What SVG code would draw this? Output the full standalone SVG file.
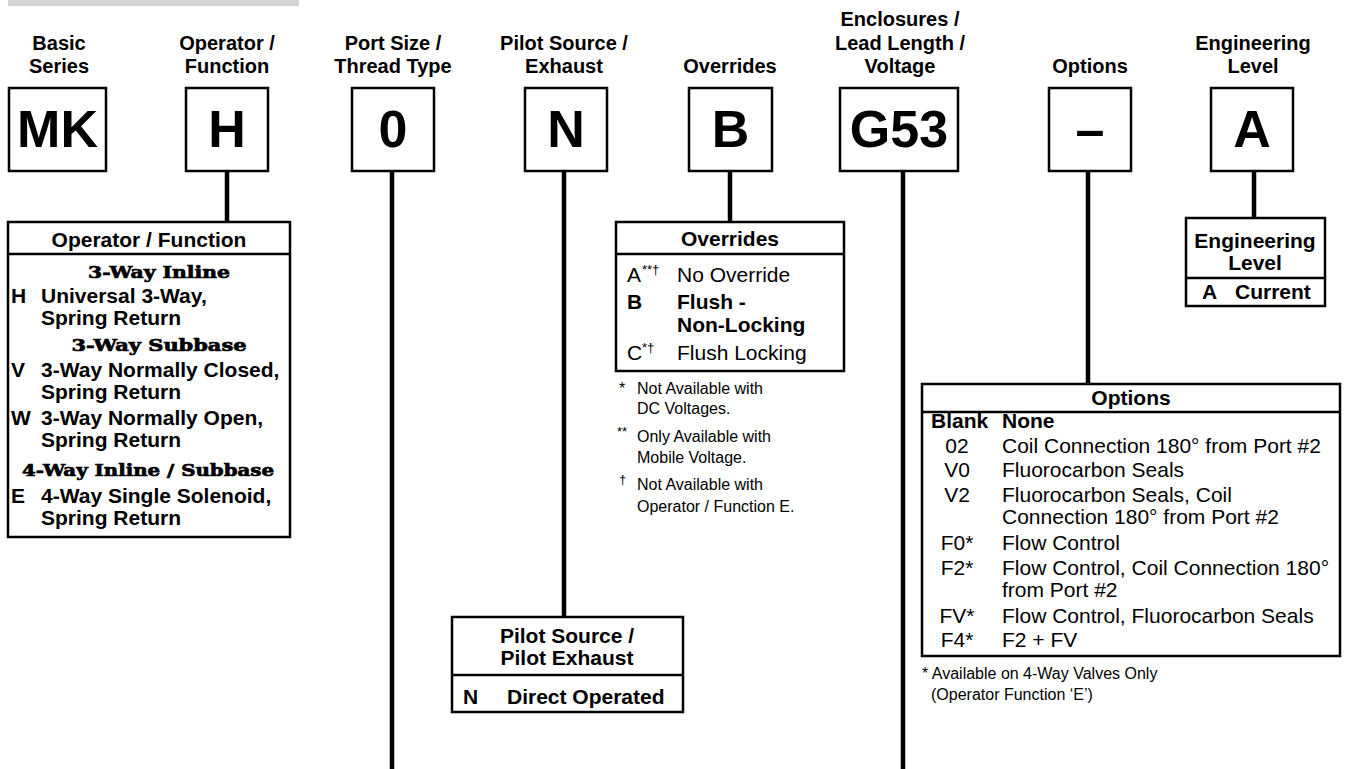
<svg xmlns="http://www.w3.org/2000/svg" width="1354" height="769" viewBox="0 0 1354 769">
<style>
text{font-family:"Liberation Sans",Arial,Helvetica,sans-serif;fill:#000}
.hdr{font-weight:bold;font-size:20px;text-anchor:middle}
.code{font-weight:bold;font-size:52px;text-anchor:middle}
.box{fill:#fff;stroke:#000;stroke-width:2.5}
.div{stroke:#000;stroke-width:2.5}
.b{font-weight:bold;font-size:21px}
.r{font-size:21px}
.c{text-anchor:middle}
.fn{font-size:16px}
.sup{font-size:13px}
.slab{font-family:"DejaVu Serif",serif;font-weight:bold;font-size:17px;text-anchor:middle;stroke:#000;stroke-width:0.7}
#connectors line{stroke:#000;stroke-width:4.5}
</style>
<rect x="8" y="0" width="291" height="6" fill="#d4d4d4"/>
<g id="connectors">
<line x1="227" y1="171" x2="227" y2="222"/>
<line x1="392" y1="171" x2="392" y2="769"/>
<line x1="564" y1="171" x2="564" y2="617"/>
<line x1="730" y1="171" x2="730" y2="222"/>
<line x1="903" y1="171" x2="903" y2="769"/>
<line x1="1088" y1="171" x2="1088" y2="384"/>
<line x1="1254" y1="171" x2="1254" y2="218"/>
</g>
<g id="basic-series">
<text class="hdr" x="59" y="50">Basic</text><text class="hdr" x="59" y="73">Series</text>
<rect class="box" x="9" y="88" width="97" height="83"/><text class="code" x="57.5" y="147">MK</text>
</g>
<g id="operator-function">
<text class="hdr" x="227" y="50">Operator /</text><text class="hdr" x="227" y="73">Function</text>
<rect class="box" x="186" y="88" width="82" height="83"/><text class="code" x="227" y="147">H</text>
</g>
<g id="port-size">
<text class="hdr" x="393" y="50">Port Size /</text><text class="hdr" x="393" y="73">Thread Type</text>
<rect class="box" x="352" y="88" width="82" height="83"/><text class="code" x="393" y="147">0</text>
</g>
<g id="pilot-source">
<text class="hdr" x="564" y="50">Pilot Source /</text><text class="hdr" x="564" y="73">Exhaust</text>
<rect class="box" x="525" y="88" width="82" height="83"/><text class="code" x="566" y="147">N</text>
</g>
<g id="overrides">
<text class="hdr" x="730" y="73">Overrides</text>
<rect class="box" x="689" y="88" width="83" height="83"/><text class="code" x="730.5" y="147">B</text>
</g>
<g id="enclosures">
<text class="hdr" x="900" y="26">Enclosures /</text><text class="hdr" x="900" y="50">Lead Length /</text><text class="hdr" x="900" y="73">Voltage</text>
<rect class="box" x="840" y="88" width="118" height="83"/><text class="code" x="899" y="147">G53</text>
</g>
<g id="options">
<text class="hdr" x="1090" y="73">Options</text>
<rect class="box" x="1049" y="88" width="82" height="83"/><text class="code" x="1090" y="147">–</text>
</g>
<g id="engineering-level">
<text class="hdr" x="1253" y="50">Engineering</text><text class="hdr" x="1253" y="73">Level</text>
<rect class="box" x="1211" y="88" width="82" height="83"/><text class="code" x="1252" y="147">A</text>
</g>
<g id="operator-table">
<rect class="box" x="8" y="222" width="282" height="315"/>
<line class="div" x1="8" y1="254" x2="290" y2="254"/>
<text class="b c" x="149" y="247">Operator / Function</text>
<text class="slab" x="159" y="278" textLength="142" lengthAdjust="spacingAndGlyphs">3-Way Inline</text>
<text class="b" x="11" y="303">H</text><text class="b" x="41" y="303">Universal 3-Way,</text>
<text class="b" x="41" y="325">Spring Return</text>
<text class="slab" x="159" y="351" textLength="175" lengthAdjust="spacingAndGlyphs">3-Way Subbase</text>
<text class="b" x="11" y="377">V</text><text class="b" x="41" y="377">3-Way Normally Closed,</text>
<text class="b" x="41" y="399">Spring Return</text>
<text class="b" x="11" y="425">W</text><text class="b" x="41" y="425">3-Way Normally Open,</text>
<text class="b" x="41" y="447">Spring Return</text>
<text class="slab" x="148" y="476" textLength="252" lengthAdjust="spacingAndGlyphs">4-Way Inline / Subbase</text>
<text class="b" x="11" y="503">E</text><text class="b" x="41" y="503">4-Way Single Solenoid,</text>
<text class="b" x="41" y="525">Spring Return</text>
</g>
<g id="overrides-table">
<rect class="box" x="616" y="222" width="228" height="149"/>
<line class="div" x1="616" y1="254" x2="844" y2="254"/>
<text class="b c" x="730" y="246">Overrides</text>
<text class="r" x="627" y="282">A</text><text class="sup" x="642" y="274">**†</text><text class="r" x="677" y="282">No Override</text>
<text class="b" x="627" y="309">B</text><text class="b" x="677" y="309">Flush -</text>
<text class="b" x="677" y="332">Non-Locking</text>
<text class="r" x="627" y="360">C</text><text class="sup" x="642" y="352">*†</text><text class="r" x="677" y="360">Flush Locking</text>
</g>
<g id="overrides-notes">
<text class="fn" x="619" y="394">*</text><text class="fn" x="637" y="394">Not Available with</text>
<text class="fn" x="637" y="414">DC Voltages.</text>
<text class="sup" x="617" y="436">**</text><text class="fn" x="637" y="442">Only Available with</text>
<text class="fn" x="637" y="463">Mobile Voltage.</text>
<text class="sup" x="619" y="484">†</text><text class="fn" x="637" y="490">Not Available with</text>
<text class="fn" x="637" y="512">Operator / Function E.</text>
</g>
<g id="pilot-table">
<rect class="box" x="452" y="617" width="231" height="95"/>
<line class="div" x1="452" y1="675" x2="683" y2="675"/>
<text class="b c" x="567" y="643">Pilot Source /</text>
<text class="b c" x="567" y="665">Pilot Exhaust</text>
<text class="b" x="463" y="704">N</text><text class="b" x="507" y="704">Direct Operated</text>
</g>
<g id="engineering-table">
<rect class="box" x="1186" y="218" width="139" height="88"/>
<line class="div" x1="1186" y1="278" x2="1325" y2="278"/>
<text class="b c" x="1255" y="248">Engineering</text>
<text class="b c" x="1255" y="270">Level</text>
<text class="b" x="1202" y="299">A</text><text class="b" x="1235" y="299">Current</text>
</g>
<g id="options-table">
<rect class="box" x="922" y="384" width="418" height="272"/>
<line class="div" x1="922" y1="412" x2="1340" y2="412"/>
<text class="b c" x="1131" y="405">Options</text>
<text class="b" x="931" y="428">Blank</text><text class="b" x="1002" y="428">None</text>
<text class="r c" x="957" y="453">02</text><text class="r" x="1002" y="453">Coil Connection 180° from Port #2</text>
<text class="r c" x="957" y="477">V0</text><text class="r" x="1002" y="477">Fluorocarbon Seals</text>
<text class="r c" x="957" y="502">V2</text><text class="r" x="1002" y="502">Fluorocarbon Seals, Coil</text>
<text class="r" x="1002" y="524">Connection 180° from Port #2</text>
<text class="r c" x="957" y="550">F0*</text><text class="r" x="1002" y="550">Flow Control</text>
<text class="r c" x="957" y="575">F2*</text><text class="r" x="1002" y="575">Flow Control, Coil Connection 180°</text>
<text class="r" x="1002" y="597">from Port #2</text>
<text class="r c" x="957" y="623">FV*</text><text class="r" x="1002" y="623">Flow Control, Fluorocarbon Seals</text>
<text class="r c" x="957" y="647">F4*</text><text class="r" x="1002" y="647">F2 + FV</text>
</g>
<g id="options-notes">
<text class="fn" x="922" y="679">* Available on 4-Way Valves Only</text>
<text class="fn" x="931" y="700">(Operator Function ‘E’)</text>
</g>
</svg>
